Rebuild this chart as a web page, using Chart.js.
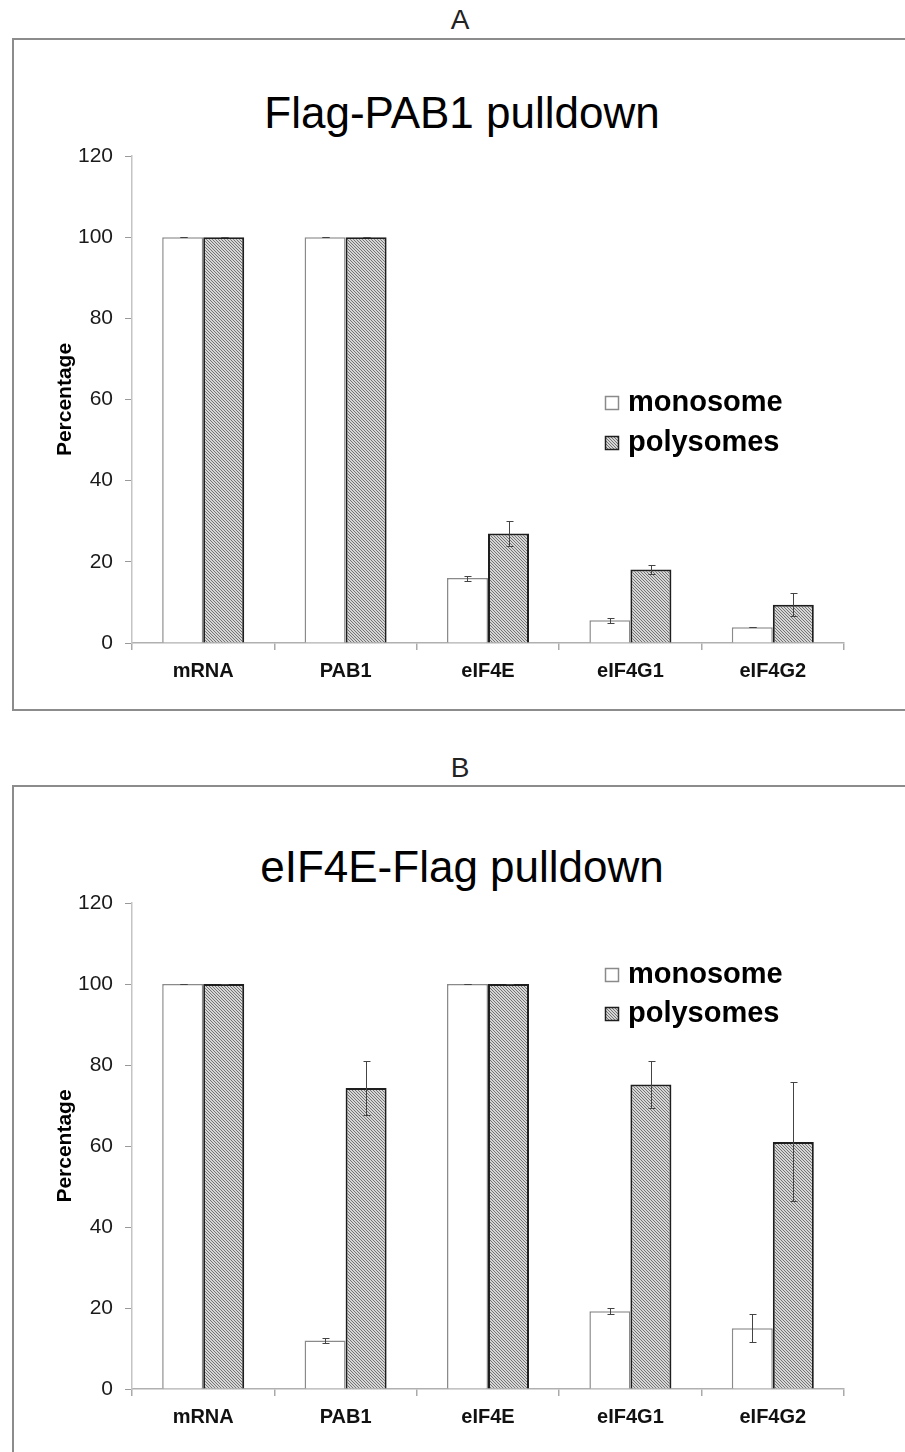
<!DOCTYPE html>
<html>
<head>
<meta charset="utf-8">
<script src="https://cdn.jsdelivr.net/npm/chart.js@4.4.1/dist/chart.umd.min.js"></script>
<style>
  html, body { margin: 0; padding: 0; background: #fff; width: 905px; height: 1452px; overflow: hidden; }
  body { position: relative; font-family: 'Liberation Sans', Arial, sans-serif; }
  .frame { position: absolute; left: 12px; width: 1000px; border: 2px solid #8c8c8c; box-sizing: border-box; }
  .panel-label { position: absolute; left: 0; width: 920px; text-align: center; font-size: 28px; line-height: 28px; color: #222; }
  .title { position: absolute; left: 0; width: 924px; text-align: center; font-size: 44px; line-height: 44px; color: #000; }
  canvas { position: absolute; left: 0; }
</style>
</head>
<body>
<div class="panel-label" style="top:6px">A</div>
<div class="frame" style="top:38px; height:673px"></div>
<div class="title" style="top:91px">Flag-PAB1 pulldown</div>
<canvas id="chartA" width="905" height="671" style="top:39px; width:905px; height:671px"></canvas>

<div class="panel-label" style="top:754px">B</div>
<div class="frame" style="top:785px; height:700px"></div>
<div class="title" style="top:845px">eIF4E-Flag pulldown</div>
<canvas id="chartB" width="905" height="666" style="top:786px; width:905px; height:666px"></canvas>

<script>
// data
const categories = ['mRNA', 'PAB1', 'eIF4E', 'eIF4G1', 'eIF4G2'];
const seriesNames = ['monosome', 'polysomes'];
const yTicks = [0, 20, 40, 60, 80, 100, 120];

// A: Flag-PAB1 pulldown
const monoA = [100, 100, 16, 5.6, 3.9];
const monoErrA = [0, 0, 0.6, 0.6, 0];
const polyA = [100, 100, 27, 18.1, 9.4];
const polyErrA = [0, 0, 3, 1.1, 2.8];

// B: eIF4E-Flag pulldown
const monoB = [100, 12, 100, 19.2, 15];
const monoErrB = [0, 0.6, 0, 0.7, 3.4];
const polyB = [100, 74.3, 100, 75.2, 61];
const polyErrB = [0, 6.6, 0, 5.7, 14.7];

const FONT = "'Liberation Sans', Arial, sans-serif";

function makeHatch(ctx) {
  const c = document.createElement('canvas');
  c.width = 3; c.height = 3;
  const g = c.getContext('2d');
  g.fillStyle = '#d6d6d6';
  g.fillRect(0, 0, 3, 3);
  g.fillStyle = '#747474';
  for (let i = 0; i < 3; i++) g.fillRect(i, i, 1, 1);
  return ctx.createPattern(c, 'repeat');
}

// error bars drawn through the y scale
const errorBars = {
  id: 'errorBars',
  afterDatasetsDraw(chart) {
    const ctx = chart.ctx, y = chart.scales.y;
    chart.data.datasets.forEach((ds, di) => {
      const meta = chart.getDatasetMeta(di);
      meta.data.forEach((bar, i) => {
        const v = ds.data[i], e = ds.errors[i];
        const top = Math.round(y.getPixelForValue(v + e)) + 0.5;
        const bot = Math.round(y.getPixelForValue(v - e)) + 0.5;
        const x = Math.round(bar.x) + 0.5;
        ctx.save();
        ctx.strokeStyle = '#444';
        ctx.lineWidth = 1;
        ctx.beginPath();
        ctx.moveTo(x, top); ctx.lineTo(x, bot);
        ctx.moveTo(x - 3, top); ctx.lineTo(x + 4, top);
        ctx.moveTo(x - 3, bot); ctx.lineTo(x + 4, bot);
        ctx.stroke();
        ctx.restore();
      });
    });
  }
};

// square + bold label legend
const boxLegend = {
  id: 'boxLegend',
  afterDraw(chart, args, opts) {
    const ctx = chart.ctx;
    chart.data.datasets.forEach((ds, i) => {
      const top = opts.y + i * opts.gap;
      ctx.save();
      ctx.fillStyle = ds.backgroundColor;
      ctx.fillRect(opts.x, top, 14, 14);
      ctx.strokeStyle = ds.borderColor;
      ctx.lineWidth = 1.5;
      ctx.strokeRect(opts.x + 0.5, top + 0.5, 13, 13);
      ctx.fillStyle = '#000';
      ctx.font = 'bold 29px ' + FONT;
      ctx.textBaseline = 'alphabetic';
      ctx.textAlign = 'left';
      ctx.fillText(ds.label, opts.x + 23, top + 15);
      ctx.restore();
    });
  }
};

function makeChart(id, mono, monoErr, poly, polyErr, axisHeight, legendPos) {
  const canvas = document.getElementById(id);
  const ctx = canvas.getContext('2d');
  return new Chart(ctx, {
    type: 'bar',
    data: {
      labels: categories,
      datasets: [{
        label: seriesNames[0],
        data: mono,
        errors: monoErr,
        backgroundColor: '#ffffff',
        borderColor: '#8a8a8a',
        borderWidth: 1.5
      }, {
        label: seriesNames[1],
        data: poly,
        errors: polyErr,
        backgroundColor: makeHatch(ctx),
        borderColor: '#1e1e1e',
        borderWidth: 2
      }]
    },
    options: {
      responsive: false,
      animation: false,
      events: [],
      layout: { padding: { top: 117, left: 19, right: 61, bottom: 0 } },
      datasets: {
        bar: { categoryPercentage: 0.576, barPercentage: 1 }
      },
      plugins: {
        legend: { display: false },
        title: { display: false },
        tooltip: { enabled: false },
        boxLegend: legendPos
      },
      scales: {
        x: {
          afterFit(scale) { scale.height = axisHeight; },
          grid: {
            display: true,
            offset: true,
            drawOnChartArea: false,
            drawTicks: true,
            tickLength: 7,
            color: '#aaaaaa',
            lineWidth: 1.5
          },
          border: { display: true, color: '#b0b0b0', width: 1.5 },
          ticks: {
            color: '#111',
            padding: 9,
            font: { family: FONT, size: 20, weight: 'bold' }
          }
        },
        y: {
          min: 0,
          max: 120,
          afterFit(scale) { scale.width = 113; },
          afterBuildTicks(scale) { scale.ticks = yTicks.map(v => ({ value: v })); },
          grid: {
            display: true,
            drawOnChartArea: false,
            drawTicks: true,
            tickLength: 7,
            color: '#999999'
          },
          border: { display: true, color: '#c4c4c4', width: 1.5 },
          ticks: {
            color: '#1a1a1a',
            padding: 12,
            font: { family: FONT, size: 21 }
          },
          title: {
            display: true,
            text: 'Percentage',
            color: '#000',
            padding: { top: 34, bottom: 0 },
            font: { family: FONT, size: 21, weight: 'bold' }
          }
        }
      }
    },
    plugins: [errorBars, boxLegend]
  });
}

makeChart('chartA', monoA, monoErrA, polyA, polyErrA, 67, { x: 605, y: 357, gap: 40 });
makeChart('chartB', monoB, monoErrB, polyB, polyErrB, 63, { x: 605, y: 182, gap: 39 });
</script>
</body>
</html>
